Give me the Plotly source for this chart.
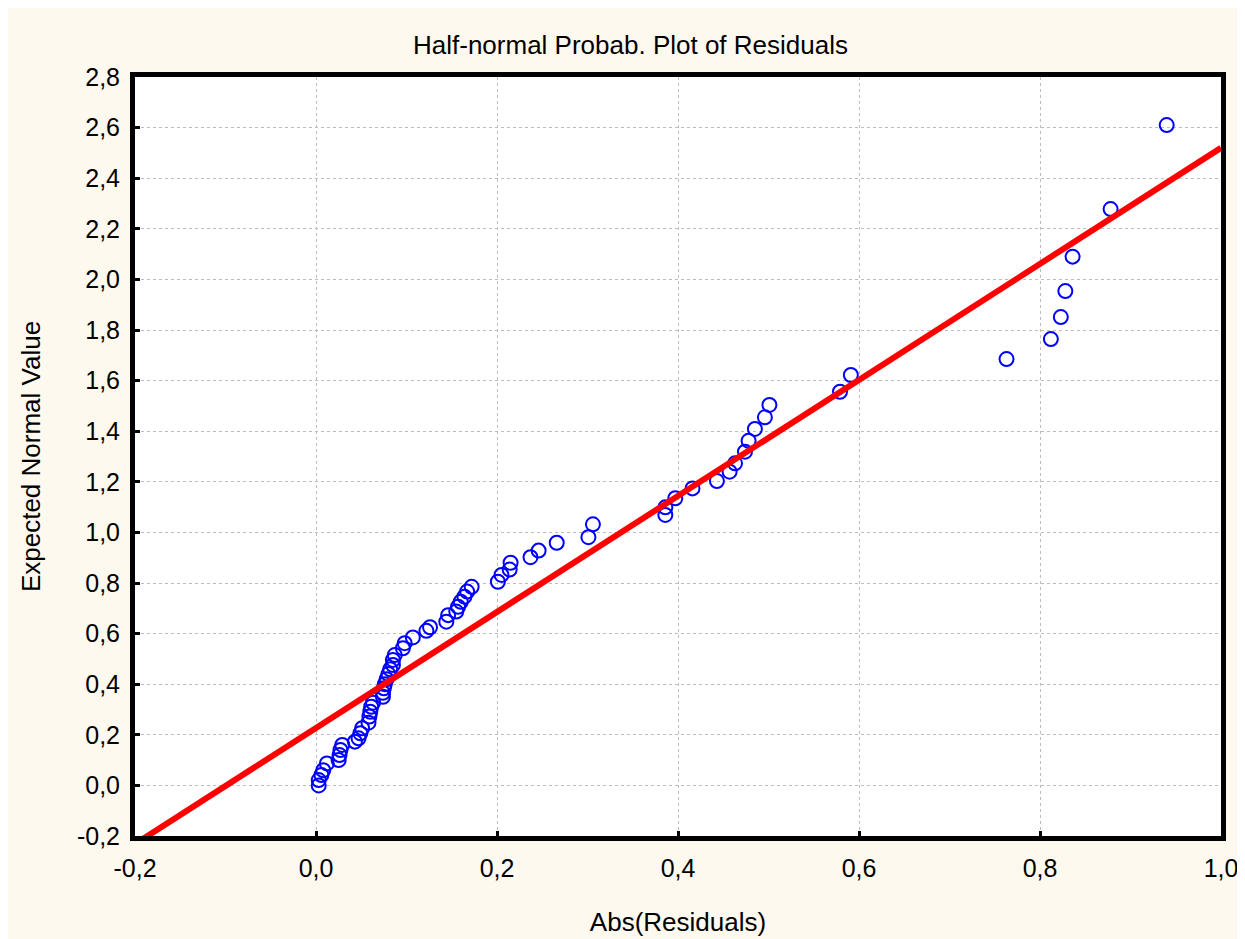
import plotly.graph_objects as go

# abs residuals and expected half-normal values
abs_resid = [0.003, 0.003, 0.006, 0.008, 0.012, 0.025, 0.026, 0.027, 0.029, 0.043,
             0.047, 0.049, 0.051, 0.058, 0.059, 0.060, 0.061, 0.063, 0.074, 0.074,
             0.075, 0.076, 0.078, 0.080, 0.082, 0.085, 0.085, 0.087, 0.096, 0.098,
             0.107, 0.122, 0.126, 0.144, 0.146, 0.155, 0.157, 0.160, 0.164, 0.167,
             0.172, 0.201, 0.205, 0.214, 0.215, 0.237, 0.246, 0.266, 0.301, 0.306,
             0.386, 0.386, 0.397, 0.416, 0.443, 0.457, 0.463, 0.474, 0.478, 0.485,
             0.496, 0.501, 0.579, 0.591, 0.763, 0.812, 0.823, 0.828, 0.836, 0.878,
             0.940]
expected = [0.000, 0.021, 0.041, 0.060, 0.087, 0.100, 0.120, 0.140, 0.160, 0.173,
            0.186, 0.206, 0.226, 0.248, 0.272, 0.291, 0.311, 0.327, 0.350, 0.366,
            0.384, 0.400, 0.420, 0.440, 0.459, 0.476, 0.496, 0.515, 0.542, 0.562,
            0.585, 0.611, 0.625, 0.647, 0.673, 0.687, 0.706, 0.726, 0.746, 0.766,
            0.785, 0.805, 0.832, 0.853, 0.880, 0.902, 0.928, 0.959, 0.981, 1.032,
            1.069, 1.099, 1.135, 1.174, 1.203, 1.240, 1.273, 1.319, 1.362, 1.409,
            1.455, 1.504, 1.556, 1.622, 1.685, 1.764, 1.851, 1.954, 2.090, 2.278,
            2.610]

# fitted line
intercept = 0.227
slope = 2.293
line_x = [-0.2, 1.0]
line_y = [intercept + slope * v for v in line_x]

# tick labels (plain hyphen, decimal comma)
x_ticks = [-0.2, 0.0, 0.2, 0.4, 0.6, 0.8, 1.0]
x_labels = ['-0,2', '0,0', '0,2', '0,4', '0,6', '0,8', '1,0']
y_ticks = [-0.2, 0.0, 0.2, 0.4, 0.6, 0.8, 1.0, 1.2, 1.4, 1.6, 1.8, 2.0, 2.2, 2.4, 2.6, 2.8]
y_labels = ['-0,2', '0,0', '0,2', '0,4', '0,6', '0,8', '1,0', '1,2', '1,4', '1,6',
            '1,8', '2,0', '2,2', '2,4', '2,6', '2,8']

fnt = 'Liberation Sans, Arial, sans-serif'

fig = go.Figure()
fig.add_trace(go.Scatter(x=abs_resid, y=expected, mode='markers',
                         marker=dict(symbol='circle-open', size=14, color='#0000ff',
                                     line=dict(width=2, color='#0000ff')),
                         showlegend=False))
fig.add_trace(go.Scatter(x=line_x, y=line_y, mode='lines',
                         line=dict(color='#ff0000', width=6), showlegend=False))

axis_common = dict(showline=True, linecolor='black', linewidth=5, mirror=True,
                   showgrid=True, gridcolor='#bdbdbd', griddash='dot', gridwidth=1,
                   zeroline=False, ticks='inside', ticklen=5, tickwidth=3, tickcolor='black',
                   tickfont=dict(family=fnt, size=25, color='black'))

fig.update_layout(
    width=1245, height=939,
    margin=dict(l=127, r=32, t=69, b=111),
    paper_bgcolor='#fdf9ef', plot_bgcolor='white',
    title=dict(text='Half-normal Probab. Plot of Residuals', x=0.5, xanchor='center',
               y=1 - 37 / 939, yanchor='middle',
               font=dict(family=fnt, size=26, color='black')),
    xaxis=dict(axis_common, range=[-0.2, 1.0], tickvals=x_ticks, ticktext=x_labels,
               ticklabelstandoff=6,
               title=dict(text='Abs(Residuals)', standoff=33,
                          font=dict(family=fnt, size=26, color='black'))),
    yaxis=dict(axis_common, range=[-0.2, 2.8], tickvals=y_ticks, ticktext=y_labels,
               ticklabelstandoff=5,
               title=dict(text='Expected Normal Value', standoff=30,
                          font=dict(family=fnt, size=26, color='black'))),
)

fig.write_html('out.html')
